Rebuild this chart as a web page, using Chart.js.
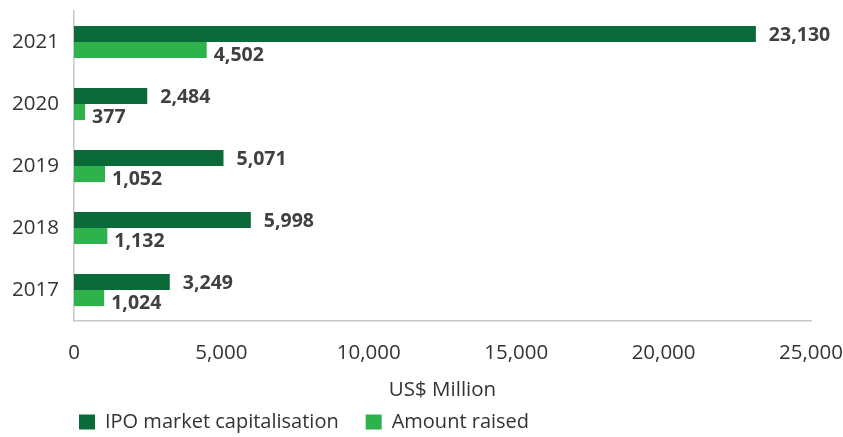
<!DOCTYPE html>
<html>
<head>
<meta charset="utf-8">
<script src="https://cdn.jsdelivr.net/npm/chart.js@4"></script>
<style>
  html, body { margin: 0; padding: 0; background: #fff; }
  #wrap { width: 843px; height: 437px; position: relative; }
</style>
</head>
<body>
<div id="wrap"><canvas id="chart-ipo"></canvas></div>
<script>
// years top to bottom, values in US$ million
const anios = ['2021', '2020', '2019', '2018', '2017'];
const capitalizacion = [23130, 2484, 5071, 5998, 3249];
const montoRecaudado = [4502, 377, 1052, 1132, 1024];
const ticksX = [0, 5000, 10000, 15000, 20000, 25000];

const VERDE_OSCURO = '#0b6a39';
const VERDE_CLARO = '#2eb34c';
const fuente = "'Open Sans', 'Noto Sans', sans-serif";

// etiquetas de valor al final de cada barra
const etiquetasBarras = {
    id: 'etiquetasBarras',
    afterDatasetsDraw(chart) {
        const ctx = chart.ctx;
        ctx.save();
        ctx.font = 'bold 19.5px ' + fuente;
        ctx.fillStyle = '#404040';
        ctx.textBaseline = 'middle';
        ctx.textAlign = 'left';
        chart.data.datasets.forEach((ds, i) => {
            const meta = chart.getDatasetMeta(i);
            const gap = i === 0 ? 13 : 7;
            const dy = i === 0 ? 1 : 5;
            meta.data.forEach((bar, j) => {
                ctx.fillText(ds.data[j].toLocaleString('en-US'), bar.x + gap, bar.y + dy);
            });
        });
        ctx.restore();
    }
};

// leyenda: menos alta y alineada con el inicio del eje
const ajusteLeyenda = {
    id: 'ajusteLeyenda',
    beforeLayout(chart) {
        const lg = chart.legend;
        if (lg && !lg._ajustado) {
            const fitOrig = lg.fit.bind(lg);
            lg.fit = function () { fitOrig(); this.height = 30; };
            lg._ajustado = true;
        }
    },
    afterLayout(chart) {
        const lg = chart.legend;
        if (!lg) return;
        lg.left = 52;
        lg.top -= 22;
        lg.height = lg.bottom - lg.top;
    }
};

new Chart(document.getElementById('chart-ipo'), {
    type: 'bar',
    data: {
        labels: anios,
        datasets: [
            { label: 'IPO market capitalisation', data: capitalizacion, backgroundColor: VERDE_OSCURO },
            { label: 'Amount raised', data: montoRecaudado, backgroundColor: VERDE_CLARO }
        ]
    },
    options: {
        indexAxis: 'y',
        responsive: true,
        maintainAspectRatio: false,
        animation: false,
        layout: { padding: { left: 13, top: 11, right: 0, bottom: 0 } },
        datasets: { bar: { categoryPercentage: 0.52, barPercentage: 1 } },
        scales: {
            x: {
                min: 0,
                max: 25000,
                afterBuildTicks: (s) => { s.ticks = ticksX.map(v => ({ value: v })); },
                afterFit: (s) => { s.height = 86; s.paddingRight = 32; },
                grid: { display: false, drawTicks: false },
                border: { display: true, color: '#c8c8c8', width: 1.5 },
                ticks: {
                    padding: 20,
                    color: '#333',
                    font: { family: fuente, size: 20.5 },
                    callback: (v) => v.toLocaleString('en-US')
                },
                title: {
                    display: true,
                    text: 'US$ Million',
                    color: '#333',
                    font: { family: fuente, size: 20.5 },
                    padding: { top: 0, bottom: 5 }
                }
            },
            y: {
                afterFit: (s) => { s.width = 61; s.paddingTop = 0; s.paddingBottom = 0; },
                grid: { display: false, drawTicks: false },
                border: { display: true, color: '#c8c8c8', width: 1.5 },
                ticks: {
                    padding: 15,
                    color: '#333',
                    font: { family: fuente, size: 20.5 }
                }
            }
        },
        plugins: {
            legend: {
                position: 'bottom',
                align: 'start',
                labels: {
                    boxWidth: 16,
                    boxHeight: 15,
                    padding: 27,
                    color: '#333',
                    font: { family: fuente, size: 20 }
                }
            },
            tooltip: { enabled: false }
        }
    },
    plugins: [etiquetasBarras, ajusteLeyenda]
});
</script>
</body>
</html>
